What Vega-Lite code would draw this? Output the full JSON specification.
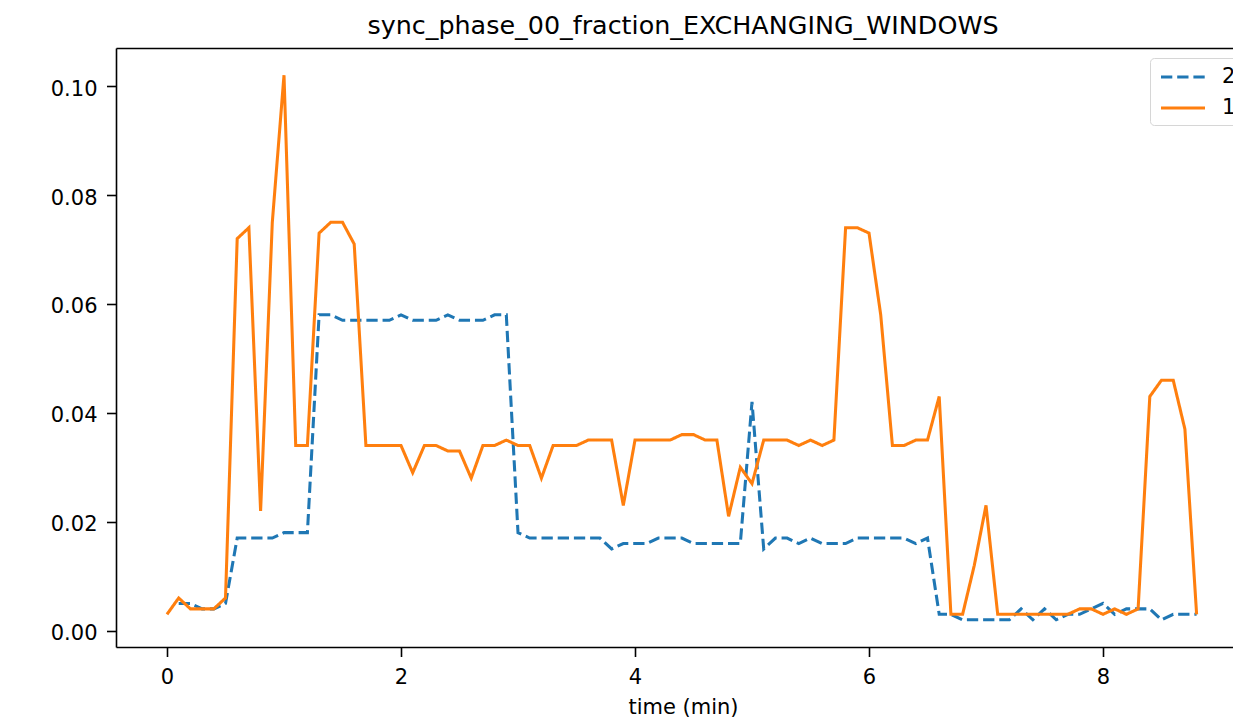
{
  "$schema": "https://vega.github.io/schema/vega-lite/v6.json",
  "width": 1117,
  "height": 599,
  "autosize": {"type": "none"},
  "padding": {"left": 116, "top": 48, "right": 0, "bottom": 74},
  "background": "white",
  "title": {"text": "sync_phase_00_fraction_EXCHANGING_WINDOWS", "font": "DejaVu Sans", "fontSize": 25.4, "fontWeight": "normal", "color": "black", "anchor": "middle", "baseline": "alphabetic", "offset": 14.5, "dx": 8.5, "dy": 25.5},
  "config": {
    "view": {"stroke": null},
    "axis": {"domainColor": "black", "domainWidth": 1.6, "tickColor": "black", "tickWidth": 1.6, "tickSize": 9.5, "labelFont": "DejaVu Sans", "labelFontSize": 21, "labelColor": "black", "titleFont": "DejaVu Sans", "titleFontSize": 21, "titleFontWeight": "normal", "titleColor": "black", "grid": false},
    "axisX": {"labelBaseline": "alphabetic", "labelPadding": 26.8, "labelFlush": false, "labelOverlap": false},
    "axisY": {"labelBaseline": "middle", "labelOffset": 3, "labelPadding": 9.5, "labelAlign": "right"}
  },
  "data": {"values": [
    {"t":0.1,"v":0.005,"s":"2"},{"t":0.2,"v":0.005,"s":"2"},{"t":0.3,"v":0.004,"s":"2"},{"t":0.4,"v":0.004,"s":"2"},{"t":0.5,"v":0.005,"s":"2"},
    {"t":0.6,"v":0.017,"s":"2"},{"t":0.7,"v":0.017,"s":"2"},{"t":0.8,"v":0.017,"s":"2"},{"t":0.9,"v":0.017,"s":"2"},{"t":1.0,"v":0.018,"s":"2"},
    {"t":1.1,"v":0.018,"s":"2"},{"t":1.2,"v":0.018,"s":"2"},{"t":1.3,"v":0.058,"s":"2"},{"t":1.4,"v":0.058,"s":"2"},{"t":1.5,"v":0.057,"s":"2"},
    {"t":1.6,"v":0.057,"s":"2"},{"t":1.7,"v":0.057,"s":"2"},{"t":1.8,"v":0.057,"s":"2"},{"t":1.9,"v":0.057,"s":"2"},{"t":2.0,"v":0.058,"s":"2"},
    {"t":2.1,"v":0.057,"s":"2"},{"t":2.2,"v":0.057,"s":"2"},{"t":2.3,"v":0.057,"s":"2"},{"t":2.4,"v":0.058,"s":"2"},{"t":2.5,"v":0.057,"s":"2"},
    {"t":2.6,"v":0.057,"s":"2"},{"t":2.7,"v":0.057,"s":"2"},{"t":2.8,"v":0.058,"s":"2"},{"t":2.9,"v":0.058,"s":"2"},{"t":3.0,"v":0.018,"s":"2"},
    {"t":3.1,"v":0.017,"s":"2"},{"t":3.2,"v":0.017,"s":"2"},{"t":3.3,"v":0.017,"s":"2"},{"t":3.4,"v":0.017,"s":"2"},{"t":3.5,"v":0.017,"s":"2"},
    {"t":3.6,"v":0.017,"s":"2"},{"t":3.7,"v":0.017,"s":"2"},{"t":3.8,"v":0.015,"s":"2"},{"t":3.9,"v":0.016,"s":"2"},{"t":4.0,"v":0.016,"s":"2"},
    {"t":4.1,"v":0.016,"s":"2"},{"t":4.2,"v":0.017,"s":"2"},{"t":4.3,"v":0.017,"s":"2"},{"t":4.4,"v":0.017,"s":"2"},{"t":4.5,"v":0.016,"s":"2"},
    {"t":4.6,"v":0.016,"s":"2"},{"t":4.7,"v":0.016,"s":"2"},{"t":4.8,"v":0.016,"s":"2"},{"t":4.9,"v":0.016,"s":"2"},{"t":5.0,"v":0.042,"s":"2"},
    {"t":5.1,"v":0.015,"s":"2"},{"t":5.2,"v":0.017,"s":"2"},{"t":5.3,"v":0.017,"s":"2"},{"t":5.4,"v":0.016,"s":"2"},{"t":5.5,"v":0.017,"s":"2"},
    {"t":5.6,"v":0.016,"s":"2"},{"t":5.7,"v":0.016,"s":"2"},{"t":5.8,"v":0.016,"s":"2"},{"t":5.9,"v":0.017,"s":"2"},{"t":6.0,"v":0.017,"s":"2"},
    {"t":6.1,"v":0.017,"s":"2"},{"t":6.2,"v":0.017,"s":"2"},{"t":6.3,"v":0.017,"s":"2"},{"t":6.4,"v":0.016,"s":"2"},{"t":6.5,"v":0.017,"s":"2"},
    {"t":6.6,"v":0.003,"s":"2"},{"t":6.7,"v":0.003,"s":"2"},{"t":6.8,"v":0.002,"s":"2"},{"t":6.9,"v":0.002,"s":"2"},{"t":7.0,"v":0.002,"s":"2"},
    {"t":7.1,"v":0.002,"s":"2"},{"t":7.2,"v":0.002,"s":"2"},{"t":7.3,"v":0.004,"s":"2"},{"t":7.4,"v":0.002,"s":"2"},{"t":7.5,"v":0.004,"s":"2"},
    {"t":7.6,"v":0.002,"s":"2"},{"t":7.7,"v":0.003,"s":"2"},{"t":7.8,"v":0.003,"s":"2"},{"t":7.9,"v":0.004,"s":"2"},{"t":8.0,"v":0.005,"s":"2"},
    {"t":8.1,"v":0.003,"s":"2"},{"t":8.2,"v":0.004,"s":"2"},{"t":8.3,"v":0.004,"s":"2"},{"t":8.4,"v":0.004,"s":"2"},{"t":8.5,"v":0.002,"s":"2"},
    {"t":8.6,"v":0.003,"s":"2"},{"t":8.7,"v":0.003,"s":"2"},{"t":8.8,"v":0.003,"s":"2"},
    {"t":0.0,"v":0.003,"s":"1"},{"t":0.1,"v":0.006,"s":"1"},{"t":0.2,"v":0.004,"s":"1"},{"t":0.3,"v":0.004,"s":"1"},{"t":0.4,"v":0.004,"s":"1"},
    {"t":0.5,"v":0.006,"s":"1"},{"t":0.6,"v":0.072,"s":"1"},{"t":0.7,"v":0.074,"s":"1"},{"t":0.8,"v":0.022,"s":"1"},{"t":0.9,"v":0.075,"s":"1"},
    {"t":1.0,"v":0.102,"s":"1"},{"t":1.1,"v":0.034,"s":"1"},{"t":1.2,"v":0.034,"s":"1"},{"t":1.3,"v":0.073,"s":"1"},{"t":1.4,"v":0.075,"s":"1"},
    {"t":1.5,"v":0.075,"s":"1"},{"t":1.6,"v":0.071,"s":"1"},{"t":1.7,"v":0.034,"s":"1"},{"t":1.8,"v":0.034,"s":"1"},{"t":1.9,"v":0.034,"s":"1"},
    {"t":2.0,"v":0.034,"s":"1"},{"t":2.1,"v":0.029,"s":"1"},{"t":2.2,"v":0.034,"s":"1"},{"t":2.3,"v":0.034,"s":"1"},{"t":2.4,"v":0.033,"s":"1"},
    {"t":2.5,"v":0.033,"s":"1"},{"t":2.6,"v":0.028,"s":"1"},{"t":2.7,"v":0.034,"s":"1"},{"t":2.8,"v":0.034,"s":"1"},{"t":2.9,"v":0.035,"s":"1"},
    {"t":3.0,"v":0.034,"s":"1"},{"t":3.1,"v":0.034,"s":"1"},{"t":3.2,"v":0.028,"s":"1"},{"t":3.3,"v":0.034,"s":"1"},{"t":3.4,"v":0.034,"s":"1"},
    {"t":3.5,"v":0.034,"s":"1"},{"t":3.6,"v":0.035,"s":"1"},{"t":3.7,"v":0.035,"s":"1"},{"t":3.8,"v":0.035,"s":"1"},{"t":3.9,"v":0.023,"s":"1"},
    {"t":4.0,"v":0.035,"s":"1"},{"t":4.1,"v":0.035,"s":"1"},{"t":4.2,"v":0.035,"s":"1"},{"t":4.3,"v":0.035,"s":"1"},{"t":4.4,"v":0.036,"s":"1"},
    {"t":4.5,"v":0.036,"s":"1"},{"t":4.6,"v":0.035,"s":"1"},{"t":4.7,"v":0.035,"s":"1"},{"t":4.8,"v":0.021,"s":"1"},{"t":4.9,"v":0.030,"s":"1"},
    {"t":5.0,"v":0.027,"s":"1"},{"t":5.1,"v":0.035,"s":"1"},{"t":5.2,"v":0.035,"s":"1"},{"t":5.3,"v":0.035,"s":"1"},{"t":5.4,"v":0.034,"s":"1"},
    {"t":5.5,"v":0.035,"s":"1"},{"t":5.6,"v":0.034,"s":"1"},{"t":5.7,"v":0.035,"s":"1"},{"t":5.8,"v":0.074,"s":"1"},{"t":5.9,"v":0.074,"s":"1"},
    {"t":6.0,"v":0.073,"s":"1"},{"t":6.1,"v":0.058,"s":"1"},{"t":6.2,"v":0.034,"s":"1"},{"t":6.3,"v":0.034,"s":"1"},{"t":6.4,"v":0.035,"s":"1"},
    {"t":6.5,"v":0.035,"s":"1"},{"t":6.6,"v":0.043,"s":"1"},{"t":6.7,"v":0.003,"s":"1"},{"t":6.8,"v":0.003,"s":"1"},{"t":6.9,"v":0.012,"s":"1"},
    {"t":7.0,"v":0.023,"s":"1"},{"t":7.1,"v":0.003,"s":"1"},{"t":7.2,"v":0.003,"s":"1"},{"t":7.3,"v":0.003,"s":"1"},{"t":7.4,"v":0.003,"s":"1"},
    {"t":7.5,"v":0.003,"s":"1"},{"t":7.6,"v":0.003,"s":"1"},{"t":7.7,"v":0.003,"s":"1"},{"t":7.8,"v":0.004,"s":"1"},{"t":7.9,"v":0.004,"s":"1"},
    {"t":8.0,"v":0.003,"s":"1"},{"t":8.1,"v":0.004,"s":"1"},{"t":8.2,"v":0.003,"s":"1"},{"t":8.3,"v":0.004,"s":"1"},{"t":8.4,"v":0.043,"s":"1"},
    {"t":8.5,"v":0.046,"s":"1"},{"t":8.6,"v":0.046,"s":"1"},{"t":8.7,"v":0.037,"s":"1"},{"t":8.8,"v":0.003,"s":"1"}
  ]},
  "layer": [
    {
      "mark": {"type": "line", "strokeWidth": 3.06, "clip": true},
      "encoding": {
        "x": {"field": "t", "type": "quantitative", "scale": {"domain": [-0.4359, 9.111], "nice": false, "zero": false},
              "axis": {"orient": "bottom", "values": [0, 2, 4, 6, 8], "format": "d", "title": "time (min)", "titleX": 567, "titleY": 66, "titleBaseline": "alphabetic", "titleAlign": "center"}},
        "y": {"field": "v", "type": "quantitative", "scale": {"domain": [-0.003, 0.107], "nice": false, "zero": false},
              "axis": {"values": [0, 0.02, 0.04, 0.06, 0.08, 0.1], "format": ".2f", "title": null}},
        "color": {"field": "s", "type": "nominal", "scale": {"domain": ["2", "1"], "range": ["#1f77b4", "#ff7f0e"]},
                  "legend": {"title": null, "orient": "none", "legendX": 1034, "legendY": 10, "symbolType": "M-0.8,0H3.6", "symbolSize": 400, "symbolStrokeWidth": 3.06, "labelFont": "DejaVu Sans", "labelFontSize": 21, "labelColor": "black", "labelOffset": 41, "padding": 7, "rowPadding": 9, "strokeColor": "#d6d6d6", "fillColor": "white", "cornerRadius": 4}},
        "strokeDash": {"field": "s", "type": "nominal", "scale": {"domain": ["2", "1"], "range": [[11.3, 4.9], [1, 0]]},
                  "legend": {"title": null, "orient": "none", "legendX": 1034, "legendY": 10, "symbolType": "M-0.8,0H3.6", "symbolSize": 400, "symbolStrokeWidth": 3.06, "labelFont": "DejaVu Sans", "labelFontSize": 21, "labelColor": "black", "labelOffset": 41, "padding": 7, "rowPadding": 9, "strokeColor": "#d6d6d6", "fillColor": "white", "cornerRadius": 4}}
      }
    },
    {
      "mark": {"type": "point", "opacity": 0},
      "encoding": {
        "x": {"field": "t", "type": "quantitative", "scale": {"domain": [-0.4359, 9.111], "nice": false, "zero": false},
              "axis": {"orient": "top", "labels": false, "ticks": false, "title": null, "domain": true, "minExtent": 0, "maxExtent": 0, "offset": 0}}
      }
    }
  ],
  "resolve": {"axis": {"x": "independent"}}
}
